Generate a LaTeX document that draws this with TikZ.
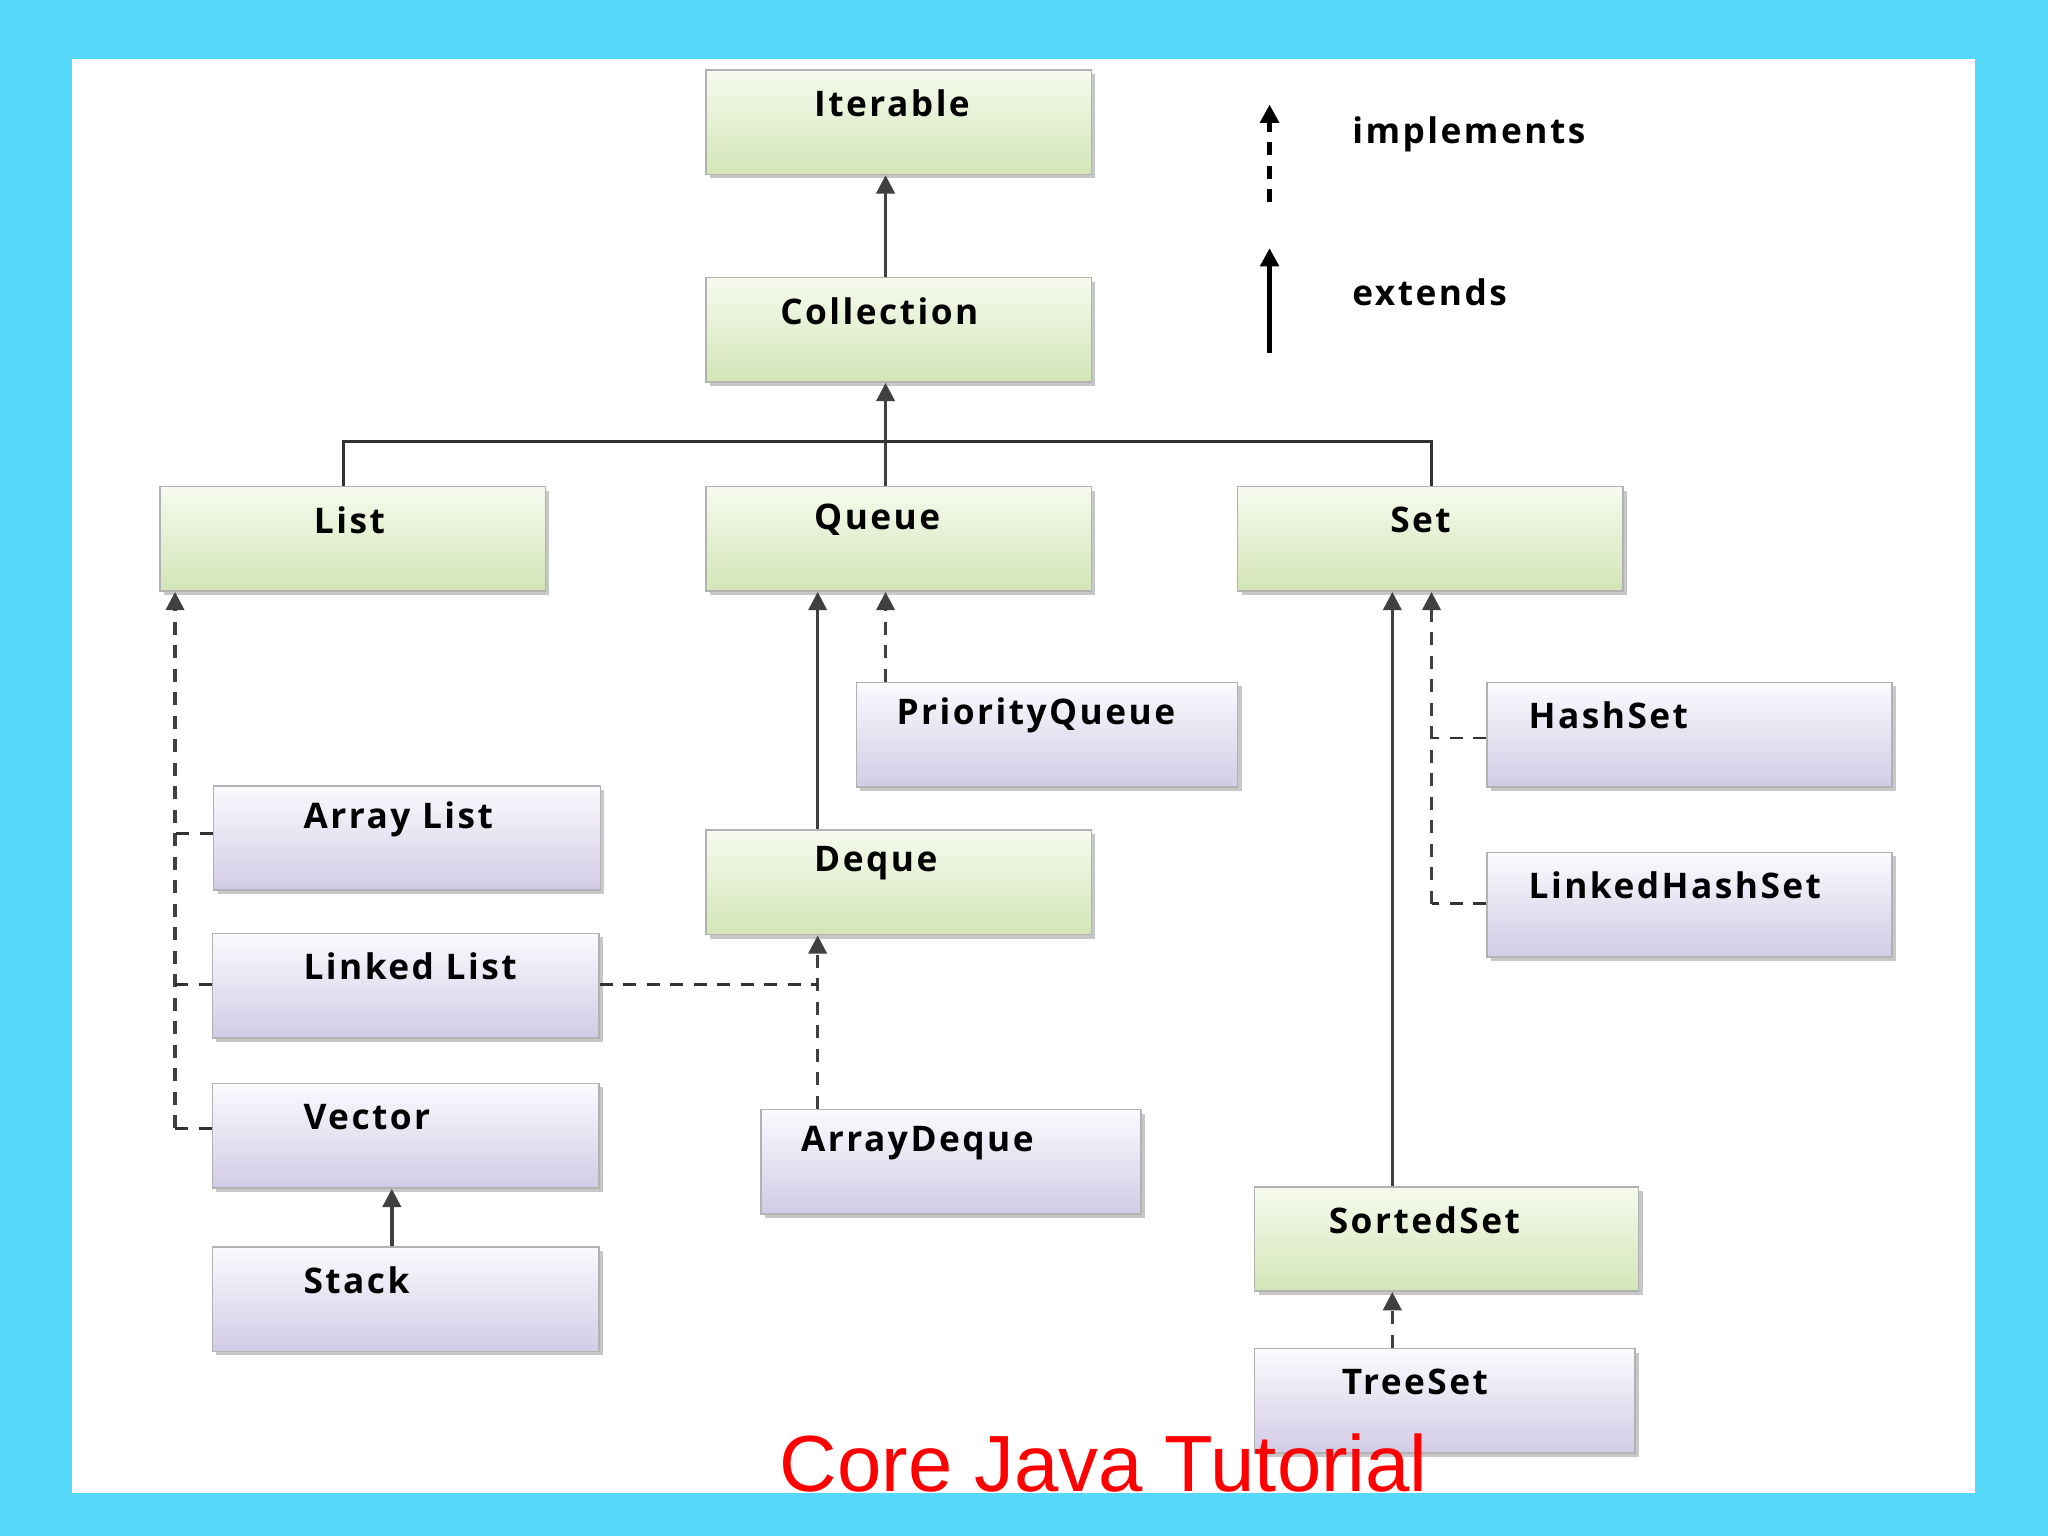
\documentclass[tikz,border=0pt]{standalone}
\usepackage{fontspec}
\setmainfont{Open Sans}
\newfontfamily\boxfont[LetterSpace=7]{Open Sans}
\newfontfamily\titlefont{Liberation Sans}
\usetikzlibrary{arrows.meta,shadows}
\definecolor{bgcyan}{HTML}{55D8FA}
\definecolor{gtop}{HTML}{F6FAEE}
\definecolor{gbot}{HTML}{D3E5B6}
\definecolor{ptop}{HTML}{FBFAFD}
\definecolor{pbot}{HTML}{D2CBE6}
\tikzset{
 box/.style={draw=gray!60,line width=0.6pt,anchor=north west,
   drop shadow={shadow xshift=1.5pt,shadow yshift=-1.5pt,fill=gray!55,opacity=0.8}},
 gbox/.style={box,top color=gtop,bottom color=gbot},
 pbox/.style={box,top color=ptop,bottom color=pbot},
 bfont/.style={font=\boxfont\bfseries\fontsize{13.5}{15}\selectfont},
 ext/.style={line width=1.3pt,draw=black!75,-{Triangle[length=7pt,width=7pt]}},
 impl/.style={ext,dash pattern=on 5pt off 4pt},
 ln/.style={line width=1.1pt,draw=black!80},
 dln/.style={ln,dash pattern=on 5pt off 4pt}
}
\begin{document}
\begin{tikzpicture}[x=0.5pt,y=-0.5pt]
\fill[bgcyan] (0,0) rectangle (1568,1176);
\fill[white] (55,45) rectangle (1512,1143);
\useasboundingbox (0,0) rectangle (1568,1176);
\newcommand{\bx}[7]{\node[#1,minimum width={(#4-#3)*0.5pt},minimum height=40pt] (#2) at (#3,#5) {};
 \node[bfont,anchor=west,inner sep=0pt] at (#7,{#5+26}) {#6};}
\bx{gbox}{iter}{540}{835}{53}{Iterable}{623}
\bx{gbox}{coll}{540}{835}{212}{Collection}{597}
\bx{gbox}{list}{122}{417}{372}{List}{240}
\bx{gbox}{queue}{540}{835}{372}{Queue}{623}
\bx{gbox}{set}{947}{1242}{372}{Set}{1064}
\bx{pbox}{pq}{655}{947}{522}{PriorityQueue}{686}
\bx{pbox}{al}{163}{459}{601}{Array List}{232}
\bx{gbox}{deque}{540}{835}{635}{Deque}{623}
\bx{pbox}{ll}{162}{458}{714}{Linked List}{232}
\bx{pbox}{vec}{162}{458}{829}{Vector}{232}
\bx{pbox}{stack}{162}{458}{954}{Stack}{232}
\bx{pbox}{ad}{582}{873}{849}{ArrayDeque}{613}
\bx{pbox}{hs}{1138}{1448}{522}{HashSet}{1170}
\bx{pbox}{lhs}{1138}{1448}{652}{LinkedHashSet}{1170}
\bx{gbox}{ss}{960}{1254}{908}{SortedSet}{1017}
\bx{pbox}{ts}{960}{1251}{1032}{TreeSet}{1027}
% extends
\draw[ext] (coll.north -| 678,0) -- (iter.south -| 678,0);
\draw[ext] (queue.north -| 678,0) -- (coll.south -| 678,0);
\draw[ln] (list.north -| 263,0) |- (678,338) -| (set.north -| 1096,0);
\draw[ext] (deque.north -| 626,0) -- (queue.south -| 626,0);
\draw[impl] (pq.north -| 678,0) -- (queue.south -| 678,0);
\draw[ext] (stack.north -| 300,0) -- (vec.south -| 300,0);
\draw[ext] (ss.north -| 1066,0) -- (set.south -| 1066,0);
\draw[impl] (ts.north -| 1066,0) -- (ss.south -| 1066,0);
% List implements
\coordinate (lb) at (134,864);
\draw[impl] (lb) -- (list.south -| 134,0);
\draw[dln] (vec.west |- 0,864) -- (lb);
\draw[dln] (al.west |- 0,638) -- (134,638);
\draw[dln] (ll.west |- 0,754) -- (134,754);
% Deque implements
\draw[impl] (ad.north -| 626,0) -- (deque.south -| 626,0);
\draw[dln] (ll.east |- 0,754) -- (626,754);
% Set implements
\coordinate (sb) at (1096,692);
\draw[impl] (sb) -- (set.south -| 1096,0);
\draw[dln] (lhs.west |- 0,692) -- (sb);
\draw[dln] (hs.west |- 0,565) -- (1096,565);
% legend
\coordinate (l1a) at (972,155); \coordinate (l1b) at (972,80);
\coordinate (l2a) at (972,270); \coordinate (l2b) at (972,190);
\draw[impl,line width=1.8pt,draw=black] (l1a) -- (l1b);
\draw[ext,line width=1.8pt,draw=black] (l2a) -- (l2b);
\node[anchor=west,inner sep=0pt,bfont] (limp) at (1035,103) {implements};
\node[anchor=west,inner sep=0pt,bfont] (lext) at (1035,224) {extends};
\node[text=red,font=\titlefont\fontsize{30.5}{34}\selectfont] (title) at (845,1120) {Core Java Tutorial};
\end{tikzpicture}
\end{document}
